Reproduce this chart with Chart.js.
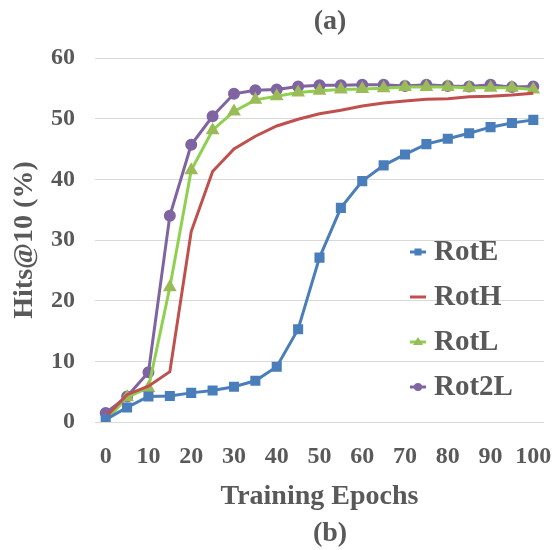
<!DOCTYPE html>
<html>
<head>
<meta charset="utf-8">
<script src="https://cdn.jsdelivr.net/npm/chart.js@4.4.0/dist/chart.umd.min.js"></script>
<style>
  html, body { margin: 0; padding: 0; background: #fff; }
  #wrap { width: 552px; height: 550px; }
</style>
</head>
<body>
<div id="wrap"><canvas id="myChart" width="552" height="550"></canvas></div>
<script>
    // Data
    const epochs = ['0','5','10','15','20','25','30','35','40','45','50','55','60','65','70','75','80','85','90','95','100'];
    const rotE  = [0.4, 2.4, 4.2, 4.3, 4.8, 5.2, 5.8, 6.8, 9.1, 15.3, 27.1, 35.3, 39.7, 42.3, 44.1, 45.8, 46.7, 47.6, 48.6, 49.3, 49.8];
    const rotH  = [0.8, 4.5, 5.9, 8.3, 31.4, 41.3, 45.0, 47.1, 48.8, 49.9, 50.8, 51.4, 52.1, 52.6, 52.9, 53.2, 53.3, 53.6, 53.7, 53.9, 54.2];
    const rotL  = [0.1, 4.1, 5.6, 22.2, 41.5, 48.1, 51.2, 53.1, 53.7, 54.3, 54.6, 54.8, 54.9, 55.0, 55.2, 55.2, 55.2, 55.1, 55.1, 55.1, 54.8];
    const rot2L = [1.5, 4.2, 8.2, 34.0, 45.7, 50.4, 54.1, 54.7, 54.8, 55.3, 55.5, 55.5, 55.6, 55.6, 55.4, 55.6, 55.4, 55.3, 55.6, 55.2, 55.3];
    const yTicks = [0, 10, 20, 30, 40, 50, 60];

    const textColor = '#595959';
    const serif = "'Liberation Serif', 'Times New Roman', serif";

    // extra text: (a), (b) and the legend inside the plot
    const extras = {
        id: 'extras',
        afterDraw(chart) {
            const ctx = chart.ctx;
            ctx.save();
            ctx.fillStyle = textColor;
            ctx.textAlign = 'center';
            ctx.textBaseline = 'middle';
            ctx.font = 'bold 28px ' + serif;
            ctx.fillText('(a)', 330, 22);
            ctx.fillText('(b)', 330, 534);

            ctx.textAlign = 'left';
            ctx.font = 'bold 29px ' + serif;
            chart.data.datasets.forEach(function (ds, i) {
                const y = 252 + i * 45;
                ctx.strokeStyle = ds.borderColor;
                ctx.lineWidth = 3;
                ctx.beginPath();
                ctx.moveTo(410, y);
                ctx.lineTo(426, y);
                ctx.stroke();
                ctx.fillStyle = ds.pointBackgroundColor;
                if (ds.pointStyle === 'rect') {
                    ctx.fillRect(414.5, y - 3.5, 7, 7);
                } else if (ds.pointStyle === 'triangle') {
                    ctx.beginPath();
                    ctx.moveTo(418, y - 5);
                    ctx.lineTo(423, y + 3);
                    ctx.lineTo(413, y + 3);
                    ctx.closePath();
                    ctx.fill();
                } else if (ds.pointStyle === 'circle' && ds.pointRadius > 0) {
                    ctx.beginPath();
                    ctx.arc(418, y, 4, 0, Math.PI * 2);
                    ctx.fill();
                }
                ctx.fillStyle = textColor;
                ctx.fillText(ds.label, 434, y + 1);
            });
            ctx.restore();
        }
    };

    var ctx = document.getElementById('myChart').getContext('2d');
    var chart = new Chart(ctx, {
        type: 'line',
        data: {
            labels: epochs,
            datasets: [
                {
                    label: 'RotE', data: rotE,
                    borderColor: '#4a7ebb', backgroundColor: '#4a7ebb',
                    pointBackgroundColor: '#4a7ebb', pointBorderColor: '#4a7ebb',
                    pointStyle: 'rect', pointRadius: 5, borderWidth: 3
                },
                {
                    label: 'RotH', data: rotH,
                    borderColor: '#c0504d', backgroundColor: '#c0504d',
                    pointBackgroundColor: '#c0504d',
                    pointStyle: 'circle', pointRadius: 0, borderWidth: 3
                },
                {
                    label: 'RotL', data: rotL,
                    borderColor: '#8fd14f', backgroundColor: '#9bbb59',
                    pointBackgroundColor: '#9bbb59', pointBorderColor: '#9bbb59',
                    pointStyle: 'triangle', pointRadius: 5, borderWidth: 3
                },
                {
                    label: 'Rot2L', data: rot2L,
                    borderColor: '#8064a2', backgroundColor: '#8064a2',
                    pointBackgroundColor: '#8064a2', pointBorderColor: '#8064a2',
                    pointStyle: 'circle', pointRadius: 4.5, borderWidth: 3
                }
            ]
        },
        options: {
            responsive: false,
            animation: false,
            layout: { padding: { top: 58, right: 0, bottom: 0, left: 0 } },
            plugins: {
                legend: { display: false },
                tooltip: { enabled: false }
            },
            elements: { line: { tension: 0 } },
            scales: {
                x: {
                    offset: true,
                    grid: { display: false, drawTicks: false },
                    border: { display: false },
                    ticks: {
                        autoSkip: false, maxRotation: 0, padding: 20,
                        color: textColor,
                        font: { family: serif, size: 24, weight: 'bold' },
                        callback: function (v, i) { return i % 2 === 0 ? epochs[i] : ''; }
                    },
                    title: {
                        display: true, text: 'Training Epochs', color: textColor,
                        font: { family: serif, size: 28, weight: 'bold' },
                        padding: { top: 0, bottom: 36 }
                    },
                    afterFit: function (scale) {
                        scale.height = 128;
                        scale.paddingLeft = 0;
                        scale.paddingRight = 8;
                    }
                },
                y: {
                    min: 0, max: 60,
                    afterBuildTicks: function (scale) {
                        scale.ticks = yTicks.map(function (v) { return { value: v }; });
                    },
                    grid: { color: '#d9d9d9', lineWidth: 1, drawTicks: false },
                    border: { display: false },
                    ticks: {
                        padding: 20, color: textColor,
                        font: { family: serif, size: 24, weight: 'bold' }
                    },
                    title: {
                        display: true, text: 'Hits@10 (%)', color: textColor,
                        font: { family: serif, size: 28, weight: 'bold' },
                        padding: { top: 8, bottom: 0 }
                    },
                    afterFit: function (scale) {
                        scale.width = 95;
                    }
                }
            }
        },
        plugins: [extras]
    });
</script>
</body>
</html>
